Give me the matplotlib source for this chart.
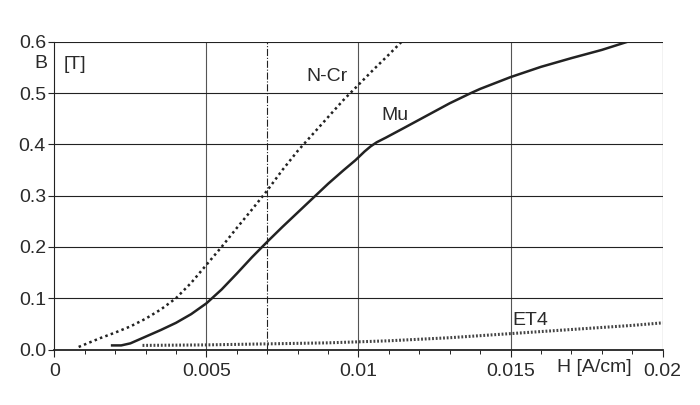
import numpy as np
import matplotlib.pyplot as plt
from matplotlib.ticker import MultipleLocator

plt.rcParams['font.family'] = ['Liberation Sans', 'DejaVu Sans']

# N-Cr curve (dotted)
ncr_h = [0.0008, 0.0015, 0.002, 0.0025, 0.003, 0.0035, 0.004, 0.0045, 0.005,
         0.0055, 0.006, 0.0065, 0.007, 0.0075, 0.008, 0.0085, 0.009, 0.0095,
         0.01, 0.0105, 0.011, 0.01142]
ncr_b = [0.005, 0.022, 0.033, 0.045, 0.06, 0.078, 0.1, 0.13, 0.165,
         0.2, 0.237, 0.273, 0.31, 0.35, 0.387, 0.42, 0.453, 0.486,
         0.516, 0.546, 0.575, 0.6]

# Mu curve (solid)
mu_h = [0.0019, 0.0022, 0.0025, 0.003, 0.0035, 0.004, 0.0045, 0.005, 0.0055,
        0.006, 0.0065, 0.007, 0.0075, 0.008, 0.0085, 0.009, 0.0095, 0.0099,
        0.0102, 0.0104, 0.0106, 0.0109, 0.0115, 0.012, 0.013, 0.0137, 0.014,
        0.015, 0.016, 0.017, 0.018, 0.01885]
mu_b = [0.008, 0.008, 0.012, 0.025, 0.038, 0.052, 0.069, 0.09, 0.117,
        0.148, 0.18, 0.21, 0.239, 0.267, 0.295, 0.323, 0.349, 0.369,
        0.386, 0.396, 0.404, 0.413, 0.432, 0.448, 0.48, 0.5, 0.508,
        0.531, 0.551, 0.568, 0.584, 0.6]

# ET4 curve (fine dotted)
et4_h = [0.0029, 0.005, 0.007, 0.009, 0.01, 0.011, 0.012, 0.013, 0.014,
         0.015, 0.016, 0.017, 0.018, 0.019, 0.02]
et4_b = [0.008, 0.009, 0.011, 0.013, 0.015, 0.017, 0.02, 0.023, 0.027,
         0.031, 0.035, 0.039, 0.043, 0.047, 0.052]

xticks = [0, 0.005, 0.01, 0.015, 0.02]
xtick_labels = ['0', '0.005', '0.01', '0.015', '0.02']
yticks = [0.0, 0.1, 0.2, 0.3, 0.4, 0.5, 0.6]

TXT = '#2a2a2a'
FS = 14

fig = plt.figure(figsize=(7, 4.05), dpi=100)
ax = fig.add_axes([0.0776, 0.137, 0.869, 0.760])

# grid
for h in [0.005, 0.01, 0.015]:
    ax.axvline(h, color='#555555', lw=0.8, zorder=1)
ax.axvline(0.007, color='#222222', lw=0.8, ls='-.', zorder=1)
ax.axvline(0.02, color='#222222', lw=0.8, zorder=1)
for b in yticks[1:]:
    ax.axhline(b, color='#222222', lw=0.8, zorder=1)

ax.plot(ncr_h, ncr_b, color='#222222', lw=1.8, ls=(0, (1, 1.3)), zorder=3)
ax.plot(mu_h, mu_b, color='#222222', lw=1.8, zorder=3)
ax.plot(et4_h, et4_b, color='#444444', lw=2.2, ls=(0, (0.6, 0.6)), zorder=3)

ax.set_xlim(0, 0.02)
ax.set_ylim(0, 0.6)
ax.set_xticks(xticks)
ax.set_xticklabels(xtick_labels)
ax.set_yticks(yticks)
ax.set_yticklabels(['%.1f' % v for v in yticks])
ax.xaxis.set_minor_locator(MultipleLocator(0.001))
ax.tick_params(axis='both', labelsize=FS, color='#222222', labelcolor=TXT)
ax.tick_params(axis='x', which='major', length=5, pad=4.5)
ax.tick_params(axis='x', which='minor', length=3)
ax.tick_params(axis='y', length=4.5, pad=1.5)

for s in ['top', 'right']:
    ax.spines[s].set_visible(False)
ax.spines['left'].set_color('#222222')
ax.spines['bottom'].set_color('#222222')
ax.spines['bottom'].set_linewidth(1.3)

ax.text(-0.00045, 0.557, 'B', fontsize=FS, color=TXT, ha='center', va='center', clip_on=False)
ax.text(0.0003, 0.555, '[T]', fontsize=FS, color=TXT, ha='left', va='center')
ax.text(0.01777, -0.035, 'H [A/cm]', fontsize=FS, color=TXT, ha='center', va='center', clip_on=False)
ax.text(0.00898, 0.532, 'N-Cr', fontsize=FS, color=TXT, ha='center', va='center')
ax.text(0.0112, 0.457, 'Mu', fontsize=FS, color=TXT, ha='center', va='center')
ax.text(0.01565, 0.0575, 'ET4', fontsize=FS, color=TXT, ha='center', va='center')

fig.savefig('out.png', dpi=100)
